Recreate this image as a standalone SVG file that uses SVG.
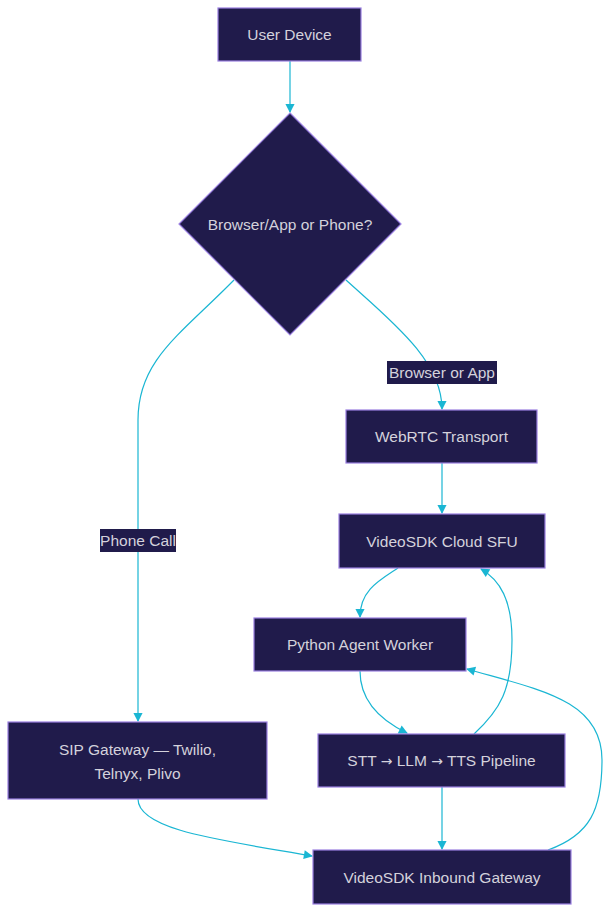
<svg xmlns="http://www.w3.org/2000/svg" width="610" height="912" viewBox="0 0 610 912">
<defs>
<style>
.n{fill:#201b4b;stroke:#9a7fe0;stroke-width:1.2}
.t{font-family:"Liberation Sans",Arial,sans-serif;font-size:15.5px;fill:#d4d2dc;text-anchor:middle;dominant-baseline:central}
.ar{font-family:"DejaVu Sans",sans-serif;font-size:14px}
.e{fill:none;stroke:#1ab6d3;stroke-width:1.2}
.lb{fill:#201b4b}
</style>
<marker id="a" viewBox="0 0 10 10" refX="9" refY="5" markerWidth="7" markerHeight="7" orient="auto-start-reverse" markerUnits="userSpaceOnUse" style="overflow:visible">
<path d="M0,0L10,5L0,10z" fill="#1ab6d3" transform="scale(1.3) translate(-2,-1.15)"/>
</marker>
</defs>
<rect width="610" height="912" fill="#fff"/>
<g id="connectors">
<path class="e" d="M290,61V112" marker-end="url(#a)"/>
<path class="e" d="M234,280C180,335 138,360 138,420V721" marker-end="url(#a)"/>
<path class="e" d="M346,280C390,320 442,360 442,409" marker-end="url(#a)"/>
<path class="e" d="M442,463V513" marker-end="url(#a)"/>
<path class="e" d="M398,568C380,580 360,590 360,617" marker-end="url(#a)"/>
<path class="e" d="M360,671C360,700 380,720 407,733" marker-end="url(#a)"/>
<path class="e" d="M474,734C500,710 512,690 512,640C512,600 500,580 481,569" marker-end="url(#a)"/>
<path class="e" d="M442,787V849" marker-end="url(#a)"/>
<path class="e" d="M138,799C138,830 220,840 312,856" marker-end="url(#a)"/>
<path class="e" d="M548,850C590,835 602,810 602,760C602,700 540,690 467,669" marker-end="url(#a)"/>
</g>
<g id="label-browser">
<rect class="lb" x="387" y="361" width="110" height="23"/>
<text class="t" x="442" y="372.5">Browser or App</text>
</g>
<g id="label-phone">
<rect class="lb" x="100" y="529" width="76" height="23"/>
<text class="t" x="138" y="540.5">Phone Call</text>
</g>
<g id="user-device">
<rect class="n" x="218" y="8" width="143" height="53"/>
<text class="t" x="289.5" y="34.5">User Device</text>
</g>
<g id="decision">
<polygon class="n" points="290,113 401,224 290,335 179,224"/>
<text class="t" x="290" y="224">Browser/App or Phone?</text>
</g>
<g id="webrtc">
<rect class="n" x="346" y="410" width="191" height="53"/>
<text class="t" x="441.5" y="436.5">WebRTC Transport</text>
</g>
<g id="sfu">
<rect class="n" x="339" y="514" width="206" height="54"/>
<text class="t" x="442" y="541">VideoSDK Cloud SFU</text>
</g>
<g id="agent">
<rect class="n" x="254" y="618" width="212" height="53"/>
<text class="t" x="360" y="644.5">Python Agent Worker</text>
</g>
<g id="sip">
<rect class="n" x="8" y="722" width="259" height="77"/>
<text class="t" x="137.5" y="749">SIP Gateway — Twilio,</text>
<text class="t" x="137.5" y="773">Telnyx, Plivo</text>
</g>
<g id="pipeline">
<rect class="n" x="318" y="734" width="247" height="53"/>
<text class="t" x="441.5" y="760.5">STT <tspan class="ar">→</tspan> LLM <tspan class="ar">→</tspan> TTS Pipeline</text>
</g>
<g id="inbound">
<rect class="n" x="313" y="850" width="258" height="54"/>
<text class="t" x="442" y="877">VideoSDK Inbound Gateway</text>
</g>
</svg>
